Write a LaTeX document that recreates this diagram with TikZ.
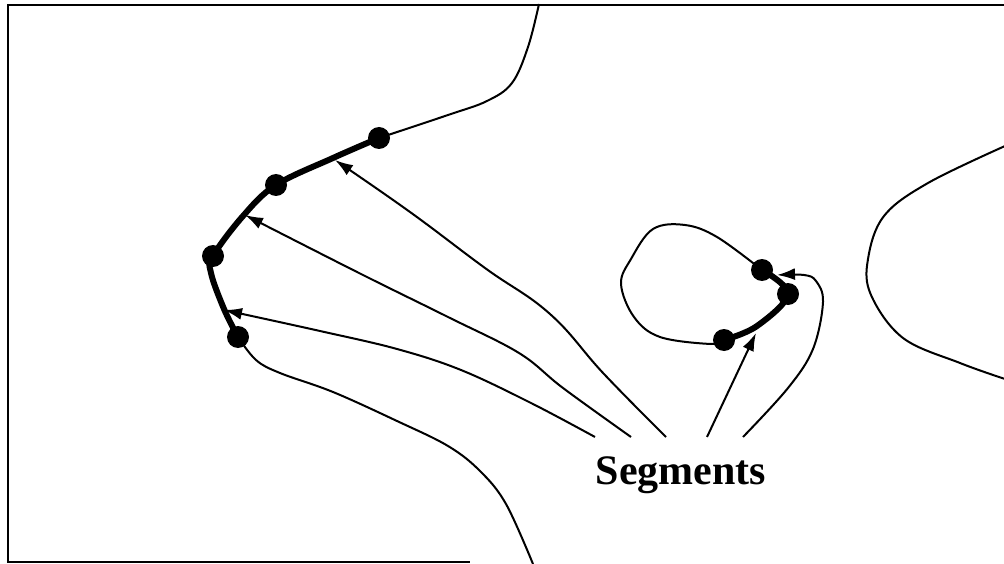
\documentclass[tikz,border=0pt]{standalone}
\usepackage{fontspec}
\setmainfont{Liberation Serif}
\usetikzlibrary{arrows.meta}
\begin{document}
\begin{tikzpicture}[x=1pt,y=-1pt,
  contour/.style={line width=2pt,line join=round},
  thick seg/.style={line width=6pt,line cap=round,line join=round},
  dotnode/.style={circle,fill=black,inner sep=0pt,minimum width=20pt,minimum height=22pt},
  pointer/.style={line width=2pt,-{Latex[length=18pt,width=12pt]}},
  frame/.style={line width=2pt}]
\useasboundingbox (0,0) rectangle (1004,564);
% frame
\draw[frame] (1004,5) -- (8,5) -- (8,562) -- (470,562);
% segment points
\node[dotnode] (d1) at (379,138) {};
\node[dotnode] (d2) at (276,185) {};
\node[dotnode] (d3) at (213,256) {};
\node[dotnode] (d4) at (238,337) {};
\node[dotnode] (e1) at (762,270) {};
\node[dotnode] (e2) at (788,294) {};
\node[dotnode] (e3) at (724,340) {};
% left contour
\draw[contour] plot[smooth,tension=0.6] coordinates {(539,4) (528,47) (512,83) (487,101) (448,115) (379,138)};
\draw[contour] plot[smooth,tension=0.6] coordinates {(238,337) (256,360) (280,373) (333,392) (397,421) (448,446) (480,471) (506,504) (533,564)};
% thick segment
\draw[thick seg] plot[smooth,tension=0.6] coordinates {(379,138) (333,158) (276,185) (243,216) (213,256) (211,273) (224,309) (238,337)};
% small loop
\draw[contour] plot[smooth,tension=0.6] coordinates {(762,270) (717,237) (685,225) (653,229) (631,259) (621,284) (634,317) (660,337) (711,344) (724,340)};
\draw[thick seg] plot[smooth,tension=0.6] coordinates {(762,270) (788,294) (757,326) (724,340)};
% right contour
\draw[contour] plot[smooth,tension=0.6] coordinates {(1005,146) (928,183) (884,216) (868,259) (871,295) (903,338) (960,363) (1005,379)};
% label
\node[font=\fontsize{42}{44}\selectfont\bfseries,anchor=base] (lab) at (681,484) {Segments};
\coordinate (t1) at (595,437);
\coordinate (t2) at (631,437);
\coordinate (t3) at (666,437);
\coordinate (t4) at (707,437);
\coordinate (t5) at (743,437);
\coordinate (h1) at (224,310);
\coordinate (h2) at (245,215);
\coordinate (h3) at (335,160);
\coordinate (h4) at (756,333);
\coordinate (h5) at (777,275);
% arrows
\draw[pointer] plot[smooth,tension=0.6] coordinates {(t1) (531,403) (461,370) (397,349) (320,331) (h1)};
\draw[pointer] plot[smooth,tension=0.6] coordinates {(t2) (563,388) (519,353) (448,317) (359,273) (h2)};
\draw[pointer] plot[smooth,tension=0.7] coordinates {(t3) (604,374) (550,314) (485,268) (410,212) (h3)};
\draw[pointer] (t4) -- (h4);
\draw[pointer] plot[smooth,tension=0.6] coordinates {(t5) (788,388) (813,349) (823,302) (816,281) (804,275) (h5)};
\end{tikzpicture}
\end{document}
